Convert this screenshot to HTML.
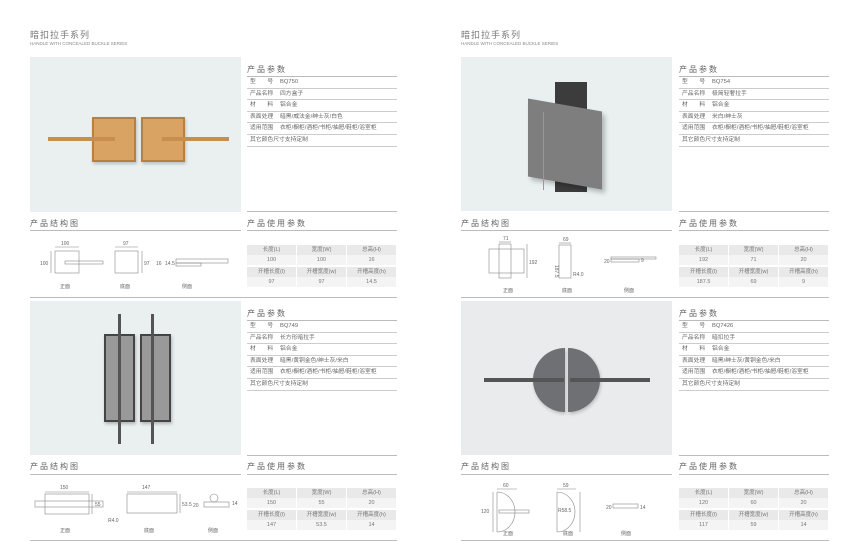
<!DOCTYPE html>
<html><head><meta charset="utf-8"><style>
*{margin:0;padding:0;box-sizing:border-box}
body{width:859px;height:548px;background:#fff;position:relative;overflow:hidden;font-family:"Liberation Sans","Noto Sans CJK SC",sans-serif;color:#666}
.a{position:absolute}
.t1{font-size:9px;color:#777;letter-spacing:1px}
.t2{font-size:4.5px;color:#888}
.h{font-size:8px;color:#666;letter-spacing:2px}
.ln{position:absolute;height:1px;background:#bbb}
.pt{position:absolute;width:150px;font-size:5.8px;color:#666}
.pt div{height:11.6px;line-height:11px;border-bottom:1px solid #ccc;padding-left:3px;white-space:nowrap}
.pt span{display:inline-block;width:30px}
.ut{position:absolute;width:150px;font-size:5.5px;color:#777;text-align:center}
.ut .r{display:flex;height:10px;line-height:10px}
.ut .r div{flex:1;margin-right:1px}
.ut .g div{background:#e9e9e9}
.ut .w div{background:#f4f4f4}
.img{position:absolute;background:#eaf0f0}
svg text{font-family:"Liberation Sans","Noto Sans CJK SC",sans-serif}
</style></head><body>

<!-- LEFT PAGE -->
<div class="a t1" style="left:30px;top:28px">暗扣拉手系列</div>
<div class="a t2" style="left:30px;top:41px">HANDLE WITH CONCEALED BUCKLE SERIES</div>

<div class="img" style="left:30px;top:57px;width:211px;height:155px">
 <div class="a" style="left:62px;top:60px;width:44px;height:45px;background:#d9a463;border:2px solid #b97f3f;box-shadow:1px 2px 3px rgba(0,0,0,.2)"></div>
 <div class="a" style="left:111px;top:60px;width:44px;height:45px;background:#d9a463;border:2px solid #b97f3f;box-shadow:1px 2px 3px rgba(0,0,0,.2)"></div>
 <div class="a" style="left:18px;top:80px;width:67px;height:4px;background:#c98e4d"></div>
 <div class="a" style="left:132px;top:80px;width:67px;height:4px;background:#c98e4d"></div>
</div>
<div class="a h" style="left:247px;top:64px">产品参数</div>
<div class="ln" style="left:247px;top:76px;width:150px"></div>
<div class="pt" style="left:247px;top:77px">
<div><span>型　　号</span>BQ750</div><div><span>产品名称</span>四方盒子</div><div><span>材　　料</span>铝合金</div><div><span>表面处理</span>暗黑/威法金/绅士灰/白色</div><div><span>适用范围</span>衣柜/橱柜/酒柜/书柜/抽屉/鞋柜/浴室柜</div><div>其它颜色尺寸支持定制</div></div>
<div class="ln" style="left:247px;top:211px;width:150px"></div>
<div class="a h" style="left:30px;top:218px">产品结构图</div>
<div class="a h" style="left:247px;top:218px">产品使用参数</div>
<div class="ln" style="left:30px;top:230px;width:211px"></div>
<div class="ln" style="left:247px;top:230px;width:150px"></div>
<svg class="a" style="left:30px;top:235px" width="211" height="60" font-size="5" fill="#666">
 <g stroke="#888" stroke-width=".6" fill="none">
  <rect x="25" y="16" width="24" height="22"/><rect x="35" y="26" width="38" height="3"/>
  <line x1="25" y1="12" x2="49" y2="12"/><line x1="21" y1="16" x2="21" y2="38"/>
  <rect x="85" y="16" width="23" height="22"/><line x1="85" y1="12" x2="108" y2="12"/><line x1="112" y1="16" x2="112" y2="38"/>
  <rect x="146" y="24" width="52" height="4"/><rect x="146" y="28" width="25" height="3"/>
 </g>
 <text x="31" y="10">100</text><text x="10" y="30">100</text>
 <text x="93" y="10">97</text><text x="114" y="30">97</text>
 <text x="126" y="30">16</text><text x="135" y="30">14.5</text>
 <text x="30" y="53">正面</text><text x="90" y="53">底面</text><text x="152" y="53">侧面</text>
</svg>
<div class="ut" style="left:247px;top:245px">
 <div class="r g"><div>长度(L)</div><div>宽度(W)</div><div>总高(H)</div></div>
 <div class="r w"><div>100</div><div>100</div><div>16</div></div>
 <div class="r g" style="margin-top:2px"><div>开槽长度(l)</div><div>开槽宽度(w)</div><div>开槽高度(h)</div></div>
 <div class="r w"><div>97</div><div>97</div><div>14.5</div></div>
</div>
<div class="ln" style="left:30px;top:297px;width:367px"></div>

<div class="img" style="left:30px;top:301px;width:211px;height:154px">
 <div class="a" style="left:74px;top:33px;width:31px;height:88px;background:#999;border:2px solid #444;box-shadow:1px 2px 3px rgba(0,0,0,.25)"></div>
 <div class="a" style="left:110px;top:33px;width:31px;height:88px;background:#999;border:2px solid #444;box-shadow:1px 2px 3px rgba(0,0,0,.25)"></div>
 <div class="a" style="left:88px;top:13px;width:3px;height:130px;background:#555"></div>
 <div class="a" style="left:121px;top:13px;width:3px;height:130px;background:#555"></div>
</div>
<div class="a h" style="left:247px;top:308px">产品参数</div>
<div class="ln" style="left:247px;top:320px;width:150px"></div>
<div class="pt" style="left:247px;top:321px">
<div><span>型　　号</span>BQ749</div><div><span>产品名称</span>长方形暗拉手</div><div><span>材　　料</span>铝合金</div><div><span>表面处理</span>暗黑/黄铜金色/绅士灰/米白</div><div><span>适用范围</span>衣柜/橱柜/酒柜/书柜/抽屉/鞋柜/浴室柜</div><div>其它颜色尺寸支持定制</div></div>
<div class="ln" style="left:247px;top:455px;width:150px"></div>
<div class="a h" style="left:30px;top:461px">产品结构图</div>
<div class="a h" style="left:247px;top:461px">产品使用参数</div>
<div class="ln" style="left:30px;top:474px;width:211px"></div>
<div class="ln" style="left:247px;top:474px;width:150px"></div>
<svg class="a" style="left:30px;top:480px" width="211" height="60" font-size="5" fill="#666">
 <g stroke="#888" stroke-width=".6" fill="none">
  <rect x="15" y="14" width="44" height="20"/><rect x="5" y="21" width="68" height="6"/><line x1="15" y1="12" x2="59" y2="12"/><line x1="62" y1="14" x2="62" y2="34"/>
  <rect x="97" y="14" width="50" height="19"/><line x1="97" y1="12" x2="147" y2="12"/><line x1="150" y1="14" x2="150" y2="33"/>
  <rect x="174" y="22" width="25" height="5"/><circle cx="184" cy="18" r="4"/>
 </g>
 <text x="30" y="9">150</text><text x="65" y="26">55</text>
 <text x="112" y="9">147</text><text x="152" y="26">53.5</text><text x="78" y="42">R4.0</text>
 <text x="163" y="27">20</text><text x="202" y="25">14</text>
 <text x="30" y="52">正面</text><text x="114" y="52">底面</text><text x="178" y="52">侧面</text>
</svg>
<div class="ut" style="left:247px;top:488px">
 <div class="r g"><div>长度(L)</div><div>宽度(W)</div><div>总高(H)</div></div>
 <div class="r w"><div>150</div><div>55</div><div>20</div></div>
 <div class="r g" style="margin-top:2px"><div>开槽长度(l)</div><div>开槽宽度(w)</div><div>开槽高度(h)</div></div>
 <div class="r w"><div>147</div><div>53.5</div><div>14</div></div>
</div>
<div class="ln" style="left:30px;top:540px;width:367px"></div>

<!-- RIGHT PAGE -->
<div class="a t1" style="left:461px;top:28px">暗扣拉手系列</div>
<div class="a t2" style="left:461px;top:41px">HANDLE WITH CONCEALED BUCKLE SERIES</div>
<div class="img" style="left:461px;top:57px;width:211px;height:154px">
 <div class="a" style="left:94px;top:25px;width:32px;height:110px;background:#3c3c3c"></div>
 <div class="a" style="left:67px;top:48px;width:74px;height:78px;background:#7e7e7e;transform:skewY(10deg);box-shadow:3px 3px 5px rgba(0,0,0,.25)"></div>
 <div class="a" style="left:82px;top:55px;width:1px;height:78px;background:#999;transform:skewY(10deg)"></div>
</div>
<div class="a h" style="left:679px;top:64px">产品参数</div>
<div class="ln" style="left:679px;top:76px;width:150px"></div>
<div class="pt" style="left:679px;top:77px">
<div><span>型　　号</span>BQ754</div><div><span>产品名称</span>极简轻奢拉手</div><div><span>材　　料</span>铝合金</div><div><span>表面处理</span>米白/绅士灰</div><div><span>适用范围</span>衣柜/橱柜/酒柜/书柜/抽屉/鞋柜/浴室柜</div><div>其它颜色尺寸支持定制</div></div>
<div class="ln" style="left:679px;top:211px;width:150px"></div>
<div class="a h" style="left:461px;top:218px">产品结构图</div>
<div class="a h" style="left:679px;top:218px">产品使用参数</div>
<div class="ln" style="left:461px;top:230px;width:211px"></div>
<div class="ln" style="left:679px;top:230px;width:150px"></div>
<svg class="a" style="left:461px;top:235px" width="211" height="60" font-size="5" fill="#666">
 <g stroke="#888" stroke-width=".6" fill="none">
  <rect x="28" y="14" width="35" height="24"/><rect x="38" y="9" width="12" height="34"/><line x1="38" y1="7" x2="50" y2="7"/><line x1="66" y1="9" x2="66" y2="43"/>
  <rect x="98" y="10" width="12" height="33"/><line x1="98" y1="8" x2="110" y2="8"/>
  <rect x="150" y="22" width="45" height="2"/><rect x="150" y="24" width="28" height="3"/>
 </g>
 <text x="42" y="5">71</text><text x="68" y="29">192</text>
 <text x="102" y="6">69</text><text x="112" y="41">R4.0</text><text x="94" y="30" transform="rotate(90 94 30)">187.5</text>
 <text x="143" y="28">20</text><text x="180" y="27">9</text>
 <text x="42" y="57">正面</text><text x="101" y="57">底面</text><text x="163" y="57">侧面</text>
</svg>
<div class="ut" style="left:679px;top:245px">
 <div class="r g"><div>长度(L)</div><div>宽度(W)</div><div>总高(H)</div></div>
 <div class="r w"><div>192</div><div>71</div><div>20</div></div>
 <div class="r g" style="margin-top:2px"><div>开槽长度(l)</div><div>开槽宽度(w)</div><div>开槽高度(h)</div></div>
 <div class="r w"><div>187.5</div><div>69</div><div>9</div></div>
</div>
<div class="ln" style="left:461px;top:297px;width:368px"></div>

<div class="img" style="left:461px;top:301px;width:211px;height:154px;background:#eaebed">
 <div class="a" style="left:72px;top:47px;width:32px;height:64px;background:#6f7073;border-radius:32px 0 0 32px;box-shadow:1px 2px 3px rgba(0,0,0,.2)"></div>
 <div class="a" style="left:107px;top:47px;width:32px;height:64px;background:#6f7073;border-radius:0 32px 32px 0;box-shadow:1px 2px 3px rgba(0,0,0,.2)"></div>
 <div class="a" style="left:23px;top:77px;width:80px;height:4px;background:#555"></div>
 <div class="a" style="left:109px;top:77px;width:80px;height:4px;background:#555"></div>
</div>
<div class="a h" style="left:679px;top:308px">产品参数</div>
<div class="ln" style="left:679px;top:320px;width:150px"></div>
<div class="pt" style="left:679px;top:321px">
<div><span>型　　号</span>BQ7426</div><div><span>产品名称</span>暗扣拉手</div><div><span>材　　料</span>铝合金</div><div><span>表面处理</span>暗黑/绅士灰/黄铜金色/米白</div><div><span>适用范围</span>衣柜/橱柜/酒柜/书柜/抽屉/鞋柜/浴室柜</div><div>其它颜色尺寸支持定制</div></div>
<div class="ln" style="left:679px;top:455px;width:150px"></div>
<div class="a h" style="left:461px;top:461px">产品结构图</div>
<div class="a h" style="left:679px;top:461px">产品使用参数</div>
<div class="ln" style="left:461px;top:474px;width:211px"></div>
<div class="ln" style="left:679px;top:474px;width:150px"></div>
<svg class="a" style="left:461px;top:480px" width="211" height="60" font-size="5" fill="#666">
 <g stroke="#888" stroke-width=".6" fill="none">
  <path d="M36 12 A18 20 0 0 1 36 52"/><line x1="36" y1="12" x2="36" y2="52"/><rect x="38" y="30" width="30" height="3"/><line x1="36" y1="9" x2="56" y2="9"/><line x1="32" y1="12" x2="32" y2="52"/>
  <path d="M96 12 A18 20 0 0 1 96 52"/><line x1="96" y1="12" x2="96" y2="52"/><line x1="96" y1="9" x2="115" y2="9"/><line x1="119" y1="12" x2="119" y2="52"/>
  <rect x="152" y="24" width="25" height="4"/>
 </g>
 <text x="42" y="7">60</text><text x="20" y="33">120</text>
 <text x="102" y="7">59</text><text x="97" y="32">R58.5</text>
 <text x="145" y="29">20</text><text x="179" y="29">14</text>
 <text x="42" y="55">正面</text><text x="102" y="55">底面</text><text x="160" y="55">侧面</text>
</svg>
<div class="ut" style="left:679px;top:488px">
 <div class="r g"><div>长度(L)</div><div>宽度(W)</div><div>总高(H)</div></div>
 <div class="r w"><div>120</div><div>60</div><div>20</div></div>
 <div class="r g" style="margin-top:2px"><div>开槽长度(l)</div><div>开槽宽度(w)</div><div>开槽高度(h)</div></div>
 <div class="r w"><div>117</div><div>59</div><div>14</div></div>
</div>
<div class="ln" style="left:461px;top:540px;width:368px"></div>
</body></html>
